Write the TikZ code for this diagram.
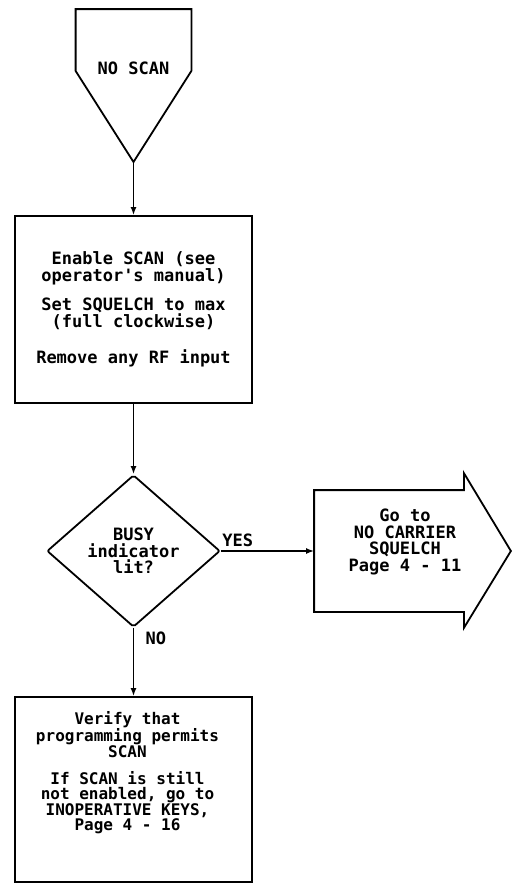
\documentclass[tikz,border=0pt]{standalone}
\usepackage{fontspec}
\setmonofont{DejaVu Sans Mono}
\usetikzlibrary{arrows.meta,positioning,shapes.geometric,calc}

\begin{document}
\begin{tikzpicture}[x=1pt,y=1pt,node distance=240pt,on grid,auto,line width=1.8pt,
    font={\ttfamily\bfseries\fontsize{17}{16.5}\selectfont}]
  \tikzstyle{smallfont} = [font={\ttfamily\bfseries\fontsize{16}{15}\selectfont}]
  \tikzstyle{stepbox} = [draw, rectangle, minimum width=237pt, inner sep=0pt, align=center]
  \tikzstyle{decision} = [draw, diamond, aspect=1.14, minimum width=173pt, minimum height=152pt, inner sep=0pt, align=center, rounded corners=2pt]
  \tikzstyle{plainbody} = [rectangle, inner sep=0pt]
  \tikzstyle{flow} = [->, >={Latex[length=8pt,width=6pt]}]

  \useasboundingbox (0,0) rectangle (513,-886);

  % start connector
  \node[plainbody, minimum width=114pt, minimum height=60pt,
    label={[yshift=-28pt]center:NO SCAN}] (start) at (133.5,-40) {};
  \coordinate[below=122pt of start] (starttip);
  \draw (start.north west) -- (start.north east) -- (start.south east)
    -- (starttip) -- (start.south west) -- cycle;

  \node[stepbox, minimum height=187pt] (setup) [below=269.5pt of start]
    {Enable SCAN (see\\operator's manual)\\[13pt]Set SQUELCH to max\\(full clockwise)\\[20pt]Remove any RF input};
  \node[decision] (busy) [below=241.5pt of setup] {BUSY\\indicator\\lit?};
  \node[stepbox, minimum height=185pt,
    label={[smallfont, align=center, xshift=-6pt, yshift=17pt]center:{Verify that\\programming permits\\SCAN\\[12pt]If SCAN is still\\not enabled, go to\\INOPERATIVE KEYS,\\Page 4 - 16}}]
    (verify) [below=238.5pt of busy] {};

  % off-page arrow
  \node[plainbody, minimum width=148pt, minimum height=120pt,
    label={[align=center, xshift=16pt, yshift=9pt]center:{Go to\\NO CARRIER\\SQUELCH\\Page 4 - 11}}]
    (goto) [right=255.5pt of busy] {};
  \draw (goto.north east) -- ++(0,17) -- ($(goto.east)+(47,0)$)
    -- ($(goto.south east)+(0,-16)$) -- (goto.south east)
    -- (goto.south west) -- (goto.north west) -- cycle;

  \path[flow]
  (starttip) edge (setup)
  (setup) edge (busy)
  (busy) edge node[pos=0.18] {YES} (goto)
    edge node[pos=0.15, xshift=8pt] {NO} (verify);
\end{tikzpicture}
\end{document}
